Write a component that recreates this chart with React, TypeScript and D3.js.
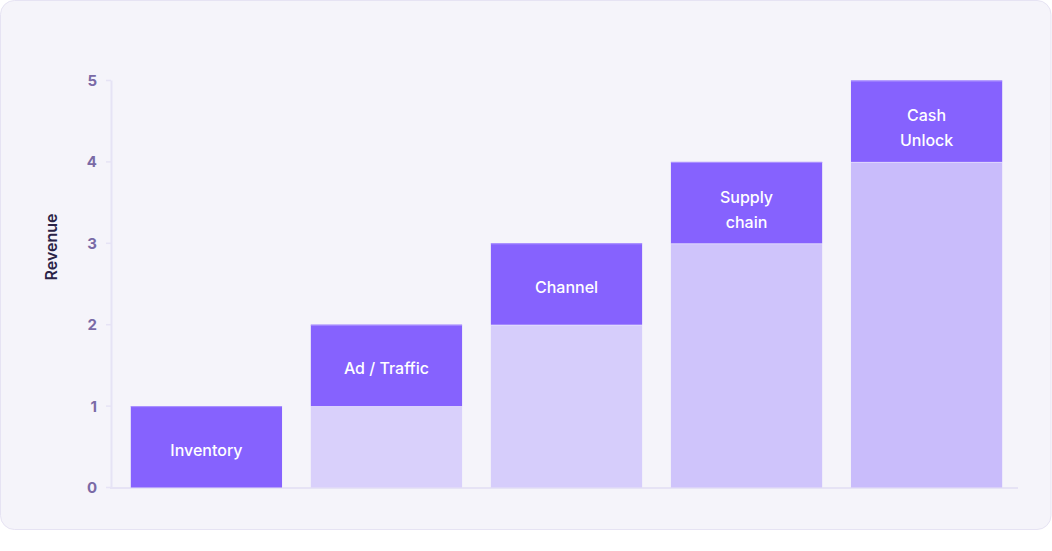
import React from "react";
import * as d3 from "d3";

const categories = ["Inventory", "Ad / Traffic", "Channel", "Supply chain", "Cash Unlock"];
const labelLines = [["Inventory"], ["Ad / Traffic"], ["Channel"], ["Supply", "chain"], ["Cash", "Unlock"]];
const baseValues = [0, 1, 2, 3, 4];
const stepValues = [1, 1, 1, 1, 1];
const baseColors = ["#dcd4fa", "#d9d0fb", "#d6cdfb", "#cfc4fb", "#c9bcfb"];
const yTicks = [0, 1, 2, 3, 4, 5];

const W = 1052;
const H = 551;

export default function App() {
  const x = d3.scaleBand<string>().domain(categories).range([111, 1022]).paddingInner(0.16).paddingOuter(0.11);
  const y = d3.scaleLinear().domain([0, 5]).range([487.5, 80.5]);
  const font = "Inter, 'Noto Sans', sans-serif";
  return (
    <svg width={W} height={H} style={{ position: "absolute", left: 0, top: 0, display: "block" }}>
      <rect x={0.5} y={0.5} width={1050.5} height={529} rx={14} fill="#f5f4fa" stroke="#e6e3f3" />
      <line x1={111.5} x2={111.5} y1={y(5)} y2={y(0)} stroke="#e6e3f5" strokeWidth={2} />
      <line x1={110} x2={1018} y1={y(0) + 0.5} y2={y(0) + 0.5} stroke="#e6e3f5" strokeWidth={2} />
      {yTicks.map((t) => (
        <g key={t}>
          <line x1={106} x2={111} y1={y(t)} y2={y(t)} stroke="#e6e3f5" strokeWidth={1.5} />
          <text x={97} y={y(t)} dy="0.36em" textAnchor="end" fontFamily={font} fontSize={15} fontWeight={700} fill="#7a6aa6">
            {t}
          </text>
        </g>
      ))}
      <text
        transform={`translate(57,247) rotate(-90)`}
        textAnchor="middle"
        fontFamily={font}
        fontSize={16}
        fontWeight={600}
        fill="#2a2347"
      >
        Revenue
      </text>
      {categories.map((c, i) => {
        const bx = x(c)!;
        const bw = x.bandwidth();
        const b = baseValues[i];
        const top = b + stepValues[i];
        const lines = labelLines[i];
        const n = lines.length;
        const cy = (y(b) + y(top)) / 2;
        const lh = 25;
        return (
          <g key={c}>
            {b > 0 && <rect x={bx} y={y(b)} width={bw} height={y(0) - y(b)} fill={baseColors[i]} />}
            {b > 0 && <rect x={bx} y={y(b)} width={bw} height={1} fill="#ede8ff" opacity={0.6} />}
            <rect x={bx} y={y(top)} width={bw} height={y(b) - y(top)} fill="#8662fe" />
            <rect x={bx} y={y(top)} width={bw} height={1} fill="#ad94ff" />
            <text textAnchor="middle" fontFamily={font} fontSize={16} fontWeight={500} fill="#ffffff">
              {lines.map((l, k) => (
                <tspan key={k} x={bx + bw / 2} y={cy + 3 + (k - (n - 1) / 2) * lh + (n - 1) * 3.5} dy="0.38em">
                  {l}
                </tspan>
              ))}
            </text>
          </g>
        );
      })}
    </svg>
  );
}
